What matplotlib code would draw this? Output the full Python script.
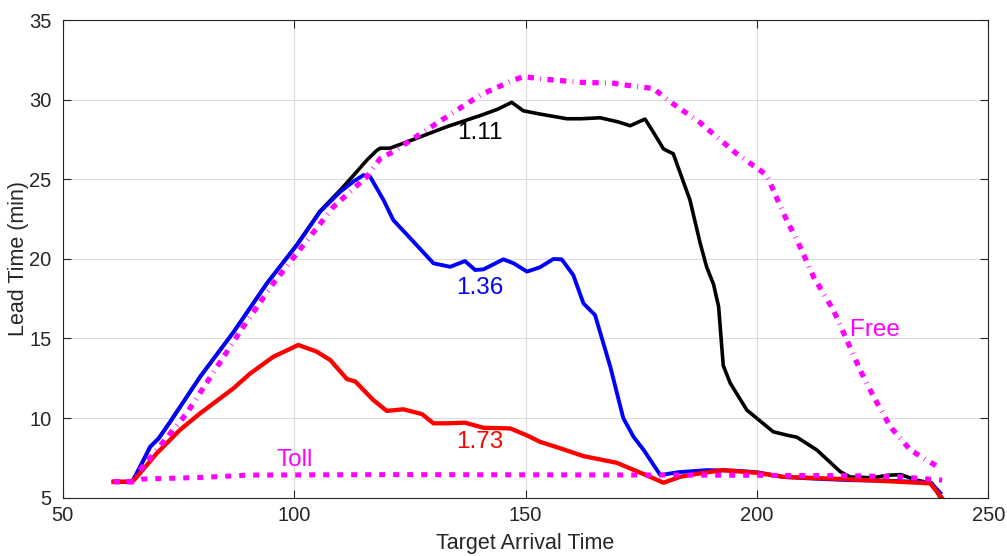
import matplotlib
matplotlib.use("Agg")
import matplotlib.pyplot as plt

plt.rcParams["font.family"] = ["Liberation Sans", "DejaVu Sans"]

# 1.11 (black)
x_111 = [61, 65, 66.7, 68.9, 70.7, 73.2, 79.7, 86.9, 94.1, 100.6, 105.6, 109.9, 113, 115.7,
         117.8, 118.6, 120.7, 125.8, 133, 140.2, 144, 147, 149.5, 153, 158.9, 162, 166.1,
         170, 172.6, 175.8, 177.5, 179.8, 181.9, 185.5, 187.7, 189.1, 190.6, 191.7, 192.7,
         194.2, 197.8, 203.5, 206.4, 208.6, 212.9, 218, 220.1, 225, 228, 231, 234.5, 237.8, 239.6]
y_111 = [6.0, 6.0, 6.9, 8.2, 8.7, 9.75, 12.6, 15.4, 18.45, 20.9, 23.0, 24.3, 25.3, 26.2,
         26.8, 26.95, 26.95, 27.5, 28.3, 29.0, 29.4, 29.83, 29.3, 29.1, 28.8, 28.8, 28.86,
         28.6, 28.36, 28.78, 28.0, 26.9, 26.6, 23.7, 21.0, 19.5, 18.4, 17.0, 13.3,
         12.2, 10.5, 9.14, 8.93, 8.8, 8.0, 6.63, 6.3, 6.25, 6.4, 6.45, 6.1, 5.9, 5.0]

# 1.36 (blue)
x_136 = [61, 65, 66.7, 68.9, 70.7, 73.2, 79.7, 86.9, 94.1, 100.6, 105.6, 109.9, 113, 115,
         116.4, 119.3, 121.4, 125.8, 130.1, 133.7, 136.9, 139.1, 140.9, 145.2, 147.4, 150.3,
         153.1, 156, 157.8, 160.3, 162.5, 165, 168.3, 171.1, 173.3, 175.5, 179.1, 183,
         189.2, 195, 200, 205.7, 212, 220.1, 230, 237.5, 239.6]
y_136 = [6.0, 6.0, 6.94, 8.2, 8.72, 9.77, 12.6, 15.4, 18.46, 20.87, 22.96, 24.2, 24.9, 25.26,
         25.16, 23.7, 22.44, 21.07, 19.72, 19.5, 19.86, 19.3, 19.34, 19.97, 19.72, 19.2,
         19.47, 19.99, 19.97, 18.98, 17.2, 16.47, 13.22, 10.0, 8.83, 8.0, 6.42, 6.6,
         6.73, 6.7, 6.6, 6.3, 6.2, 6.1, 6.05, 5.95, 5.3]

# 1.73 (red)
x_173 = [61, 65, 66, 70.3, 75.3, 79.7, 86.9, 90.5, 95.5, 100.9, 104.9, 107.8, 111.4, 113.2,
         117.1, 120, 123.6, 127.6, 130.1, 133, 136.9, 140.9, 146.7, 150.6, 153.1, 157.5,
         162.5, 169.7, 175.5, 179.8, 183.4, 187.7, 192.7, 199.9, 205.7, 220.1, 237.4, 239.9]
y_173 = [6.0, 6.0, 6.3, 7.78, 9.25, 10.3, 11.87, 12.8, 13.85, 14.59, 14.17, 13.64, 12.45, 12.3,
         11.13, 10.45, 10.55, 10.25, 9.67, 9.67, 9.71, 9.39, 9.35, 8.87, 8.51, 8.1,
         7.61, 7.19, 6.48, 5.94, 6.31, 6.53, 6.73, 6.56, 6.31, 6.15, 5.9, 5.0]

# Free
x_free = [61, 65, 66.7, 70.3, 76.8, 83.3, 89, 95.5, 100.6, 108.5, 115.7, 118.6, 121.4, 125.8,
          133, 140.2, 147.4, 149.5, 154.6, 161.8, 169, 171.9, 177.6, 181.2, 187.5, 195.6,
          202.1, 205.7, 209.3, 212.2, 216.5, 219.4, 222.3, 225.2, 228.8, 233.1, 239.6]
y_free = [6.0, 6.0, 6.73, 8.0, 10.3, 13.2, 15.73, 18.46, 20.35, 23.27, 25.16, 26.3, 26.73, 27.57,
          28.93, 30.29, 31.23, 31.44, 31.27, 31.09, 31.03, 30.9, 30.7, 29.87, 28.6, 26.6,
          25.26, 22.86, 20.76, 18.88, 16.78, 14.9, 13.0, 11.34, 9.45, 8.0, 6.84]

# Toll
x_toll = [61, 65.3, 67.4, 79.7, 90.5, 120, 184, 220, 231, 240]
y_toll = [6.0, 6.0, 6.17, 6.27, 6.42, 6.45, 6.42, 6.38, 6.31, 6.1]

fig = plt.figure(figsize=(10.07, 5.56), dpi=100)
ax = fig.add_axes([0.0623, 0.1049, 0.9193, 0.8591])

ax.plot(x_111, y_111, color="black", lw=2.6)
ax.plot(x_136, y_136, color="blue", lw=2.8)
ax.plot(x_173, y_173, color="red", lw=3.1)
ax.plot(x_free, y_free, color="magenta", lw=3.8, linestyle=(0, (1.2, 1.2, 1.2, 1.2, 0.15, 1.2)))
ax.plot(x_toll, y_toll, color="magenta", lw=3.6, linestyle=(0, (1.2, 1.6)))

# annotations
fs = 17.5
ax.text(140.2, 27.9, "1.11", color="black", fontsize=fs, ha="center", va="center")
ax.text(140.2, 18.2, "1.36", color="blue", fontsize=fs, ha="center", va="center")
ax.text(140.2, 8.5, "1.73", color="red", fontsize=fs, ha="center", va="center")
ax.text(100.2, 7.35, "Toll", color="magenta", fontsize=fs, ha="center", va="center")
ax.text(225.5, 15.5, "Free", color="magenta", fontsize=fs, ha="center", va="center")

ax.set_xlim(50, 250)
ax.set_ylim(5, 35)
ax.set_xticks([50, 100, 150, 200, 250])
ax.set_yticks([5, 10, 15, 20, 25, 30, 35])
ax.grid(True, color="#dcdcdc", lw=0.8)
ax.set_axisbelow(True)
ax.tick_params(direction="in", top=True, right=True, length=6, width=0.8,
               labelsize=14.5, colors="#262626")
ax.tick_params(axis="y", pad=8)
ax.tick_params(axis="x", pad=6)
for s in ax.spines.values():
    s.set_color("#262626")
    s.set_linewidth(0.8)
ax.set_xlabel("Target Arrival Time", fontsize=15.5, color="#262626", labelpad=6)
ax.set_ylabel("Lead Time (min)", fontsize=15.5, color="#262626", labelpad=0)

fig.savefig("out.png", dpi=100)
